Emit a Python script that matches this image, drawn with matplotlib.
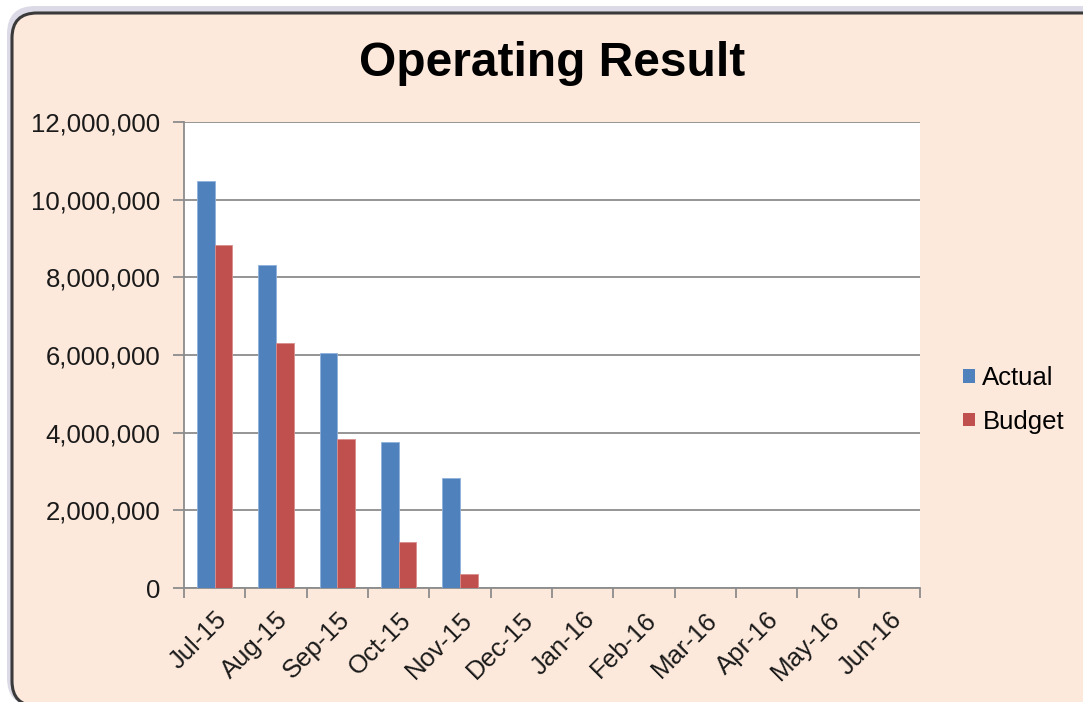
import matplotlib.pyplot as plt
from matplotlib.patches import FancyBboxPatch, Patch
from matplotlib.ticker import FuncFormatter, MultipleLocator
import numpy as np

plt.rcParams['font.family'] = ['Liberation Sans', 'DejaVu Sans']

months = ['Jul-15', 'Aug-15', 'Sep-15', 'Oct-15', 'Nov-15', 'Dec-15',
          'Jan-16', 'Feb-16', 'Mar-16', 'Apr-16', 'May-16', 'Jun-16']
actual = [10480000, 8320000, 6050000, 3770000, 2840000, 0, 0, 0, 0, 0, 0, 0]
budget = [8830000, 6310000, 3840000, 1190000, 370000, 0, 0, 0, 0, 0, 0, 0]

W, H = 1083, 702
fig = plt.figure(figsize=(W / 100, H / 100), dpi=100)
fig.patch.set_facecolor('white')

# rounded chart-area background with soft shadow
shadow = FancyBboxPatch((7 / W, -4 / H), 1100 / W, 700 / H,
                        boxstyle='round,pad=0,rounding_size=%f' % (28 / W),
                        mutation_aspect=W / H,
                        transform=fig.transFigure, facecolor='#dcdae6',
                        edgecolor='none', zorder=0)
fig.patches.append(shadow)
bg = FancyBboxPatch((12 / W, -4 / H), 1095 / W, 693 / H,
                    boxstyle='round,pad=0,rounding_size=%f' % (25 / W),
                    mutation_aspect=W / H,
                    transform=fig.transFigure, facecolor='#fde9db',
                    edgecolor='#3a3a3a', linewidth=2.2, zorder=1)
fig.patches.append(bg)

ax = fig.add_axes([184 / W, 1 - 588 / H, (920 - 184) / W, (588 - 122) / H])
ax.set_zorder(2)
ax.set_facecolor('white')

x = np.arange(len(months))
bw = 0.286
ax.bar(x - bw / 2, actual, bw, color='#4f81bd', edgecolor='#8fb1dc', linewidth=0.6,
       label='Actual', zorder=3)
ax.bar(x + bw / 2, budget, bw, color='#c0504d', edgecolor='#d88f8d', linewidth=0.6,
       label='Budget', zorder=3)

ax.set_xlim(-0.5, len(months) - 0.5)
ax.set_ylim(0, 12000000)
ax.yaxis.set_major_locator(MultipleLocator(2000000))
ax.yaxis.set_major_formatter(FuncFormatter(lambda v, p: f'{int(v):,}'))
ax.grid(axis='y', color='#8c8c8c', linewidth=1.3, zorder=1)

# category boundary ticks, labels at centers
ax.set_xticks(np.arange(-0.5, len(months)), minor=False)
ax.set_xticklabels([])
ax.set_xticks(x, minor=True)
ax.set_xticklabels(months, minor=True, rotation=45, ha='right',
                   rotation_mode='anchor', fontsize=18.5, color='#1a1a1a')
ax.tick_params(axis='x', which='major', length=7, width=1.3, color='#8c8c8c')
ax.tick_params(axis='x', which='minor', length=0, pad=14)
ax.tick_params(axis='y', length=8, width=1.3, color='#8c8c8c', labelsize=18.5,
               labelcolor='#1a1a1a', pad=9)

for s in ['top', 'right']:
    ax.spines[s].set_visible(False)
for s in ['left', 'bottom']:
    ax.spines[s].set_color('#8c8c8c')
    ax.spines[s].set_linewidth(1.3)

fig.text(552 / W, 1 - 63 / H, 'Operating Result', ha='center', va='center',
         fontsize=34.5, fontweight='bold', color='black')

handles = [Patch(facecolor='#4f81bd'), Patch(facecolor='#c0504d')]
fig.legend(handles, ['Actual', 'Budget'], loc='center left',
           bbox_to_anchor=(940 / W, 1 - 400 / H), frameon=False, fontsize=18.5,
           handlelength=0.45, handleheight=0.45, handletextpad=0.3, labelspacing=0.75)

fig.savefig('out.png', dpi=100, facecolor=fig.get_facecolor())
